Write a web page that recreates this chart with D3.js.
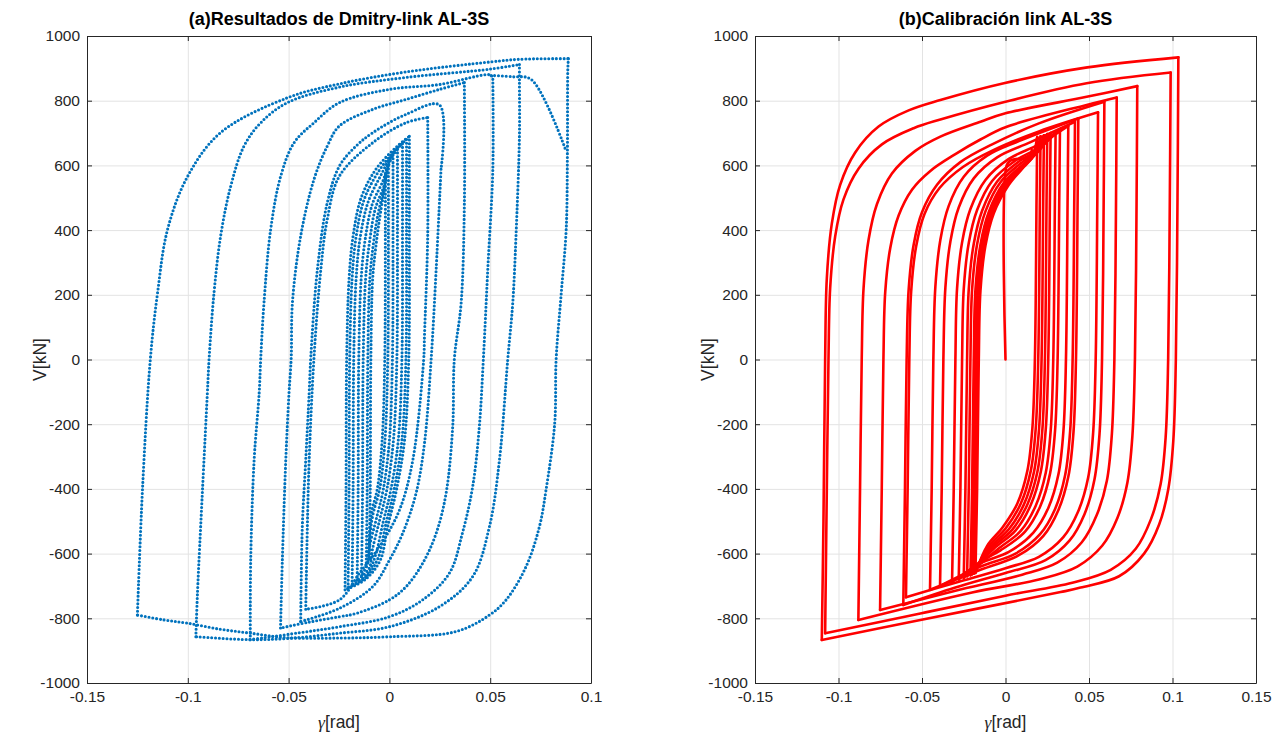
<!DOCTYPE html>
<html><head><meta charset="utf-8">
<script src="https://cdn.jsdelivr.net/npm/d3@7"></script>
<style>
body{margin:0;background:#fff;}
svg{display:block;}
</style></head><body>
<svg id="chart" width="1281" height="735"></svg>
<script>
// ---------- axis ticks ----------
const yTicks = [-1000,-800,-600,-400,-200,0,200,400,600,800,1000];
const xTicksA = [-0.15,-0.1,-0.05,0,0.05,0.1];
const xTicksB = [-0.15,-0.1,-0.05,0,0.05,0.1,0.15];
const titleA = "(a)Resultados de Dmitry-link AL-3S";
const titleB = "(b)Calibración link AL-3S";

// ---------- panel (a): experimental loops [gamma, V] ----------
const loopA = [[-0.125,-790],[-0.1225,-404],[-0.1186,0],[-0.115,206],[-0.110,403],[-0.100,567],[-0.0838,701],[-0.0506,809],[-0.0248,852],[0.0083,889],[0.0504,920],[0.0645,928],[0.0888,930],[0.0885,898],[0.0883,640],[0.0877,403],[0.0852,202],[0.0827,0],[0.082,-197],[0.0777,-403],[0.0744,-517],[0.0678,-640],[0.0579,-743],[0.0496,-790],[0.033,-841],[0,-857],[-0.0248,-861],[-0.0506,-860],[-0.0688,-846],[-0.0837,-834],[-0.1002,-815],[-0.1118,-805],[-0.125,-790]];
const loopB = [[-0.096,-857],[-0.0952,-722],[-0.0928,-414],[-0.0903,-104],[-0.0894,6],[-0.087,206],[-0.0837,382],[-0.0787,536],[-0.0721,660],[-0.0638,732],[-0.0506,794],[-0.0248,842],[0.0083,872],[0.0504,898],[0.0645,912],[0.0645,860],[0.0645,691],[0.0628,382],[0.0612,176],[0.0587,0],[0.0546,-310],[0.0496,-517],[0.0413,-671],[0.0248,-764],[0,-826],[-0.0248,-846],[-0.05,-862],[-0.069,-866],[-0.096,-857]];
const loopAnom = [[0.0504,878],[0.0612,874],[0.0703,866],[0.0876,645]];
const loopC = [[-0.069,-866],[-0.0688,-620],[-0.0671,-311],[-0.0646,-104],[-0.0638,6],[-0.0622,176],[-0.0589,402],[-0.0539,567],[-0.0473,670],[-0.0374,732],[-0.0248,794],[0,835],[0.0248,850],[0.0504,879],[0.0513,866],[0.0513,588],[0.0488,279],[0.0466,0],[0.0446,-208],[0.0413,-393],[0.0362,-537],[0.0298,-660],[0.0165,-743],[0,-795],[-0.0248,-826],[-0.045,-845],[-0.069,-866]];
const loopD = [[-0.054,-830],[-0.0531,-620],[-0.0514,-311],[-0.0498,-104],[-0.0487,6],[-0.0481,176],[-0.044,382],[-0.0374,557],[-0.0308,660],[-0.0248,722],[-0.0083,773],[0.0083,804],[0.0248,835],[0.0372,856],[0.0372,846],[0.0372,485],[0.0356,176],[0.0322,0],[0.0314,-208],[0.0281,-414],[0.0232,-537],[0.0165,-630],[0.0083,-702],[0,-743],[-0.0165,-785],[-0.0248,-795],[-0.04,-812],[-0.054,-830]];
const loopE = [[-0.044,-810],[-0.0432,-517],[-0.0415,-311],[-0.0398,-104],[-0.039,6],[-0.0357,279],[-0.0308,485],[-0.0248,598],[-0.0165,660],[-0.0083,701],[0.0083,758],[0.0248,787],[0.0256,588],[0.0232,279],[0.0207,0],[0.0174,-259],[0.0132,-414],[0.0066,-537],[0,-620],[-0.0083,-702],[-0.0248,-769],[-0.044,-810]];
const loopF = [[-0.0415,-772],[-0.0407,-517],[-0.0398,-311],[-0.0374,6],[-0.034,279],[-0.0308,434],[-0.0248,567],[-0.0083,670],[0.0083,732],[0.019,748],[0.019,382],[0.0174,73],[0.017,0],[0.0116,-311],[0.005,-465],[-0.005,-579],[-0.0149,-661],[-0.0248,-743],[-0.0415,-772]];
const loopS1 = [[-0.022,-712],[-0.0215,-400],[-0.0212,0],[-0.020,250],[-0.018,382],[-0.014,500],[-0.0066,589],[0.004,660],[0.0099,690],[0.0099,400],[0.0096,0],[0.0075,-250],[0.0036,-400],[-0.001,-520],[-0.0045,-620],[-0.012,-680],[-0.022,-712]];
const loopS2 = [[-0.0205,-705],[-0.020,-400],[-0.0197,0],[-0.0185,250],[-0.0165,380],[-0.0125,495],[-0.0055,580],[0.003,648],[0.0085,680],[0.0085,400],[0.0082,0],[0.0062,-250],[0.0024,-400],[-0.002,-515],[-0.0055,-612],[-0.0115,-672],[-0.0205,-705]];
const loopS3 = [[-0.0185,-696],[-0.018,-400],[-0.0177,0],[-0.0165,250],[-0.0145,377],[-0.0105,488],[-0.0042,570],[0.0015,635],[0.0065,667],[0.0065,400],[0.0062,0],[0.0044,-250],[0.0008,-400],[-0.0033,-508],[-0.0068,-603],[-0.0108,-662],[-0.0185,-696]];
const loopS4 = [[-0.016,-682],[-0.0155,-400],[-0.0152,0],[-0.014,250],[-0.012,372],[-0.0085,480],[-0.003,555],[0.0,615],[0.004,650],[0.004,400],[0.0037,0],[0.002,-250],[-0.0012,-400],[-0.005,-500],[-0.0085,-590],[-0.010,-645],[-0.016,-682]];
const loopS5 = [[-0.0138,-668],[-0.0133,-400],[-0.013,0],[-0.0118,250],[-0.0098,366],[-0.007,466],[-0.0025,540],[-0.0007,595],[0.0018,632],[0.0018,400],[0.0015,0],[0.0,-250],[-0.003,-400],[-0.0065,-493],[-0.0098,-576],[-0.0108,-630],[-0.0138,-668]];
const loopS6 = [[-0.0115,-640],[-0.011,-400],[-0.0107,0],[-0.0097,250],[-0.008,355],[-0.0058,445],[-0.003,520],[-0.0015,565],[-0.0005,600],[-0.0005,400],[-0.0008,0],[-0.0022,-250],[-0.0048,-400],[-0.0082,-480],[-0.010,-560],[-0.0108,-605],[-0.0115,-640]];
const loopS7 = [[-0.010,-612],[-0.0095,-400],[-0.0092,0],[-0.0083,250],[-0.0068,345],[-0.005,430],[-0.0032,500],[-0.0022,540],[-0.002,570],[-0.002,400],[-0.0023,0],[-0.0036,-250],[-0.006,-400],[-0.0088,-470],[-0.0098,-540],[-0.0099,-580],[-0.010,-612]];
const expLoops = [loopA,loopB,loopAnom,loopC,loopD,loopE,loopF,loopS1,loopS2,loopS3,loopS4,loopS5,loopS6,loopS7];

// ---------- panel (b): calibrated model loops [gamma, V] ----------
const modelStart = [[0,0],[0.0007,600],[0.003,615],[0.0157,622],[0.0157,648]];
const R1 = [[-0.110,-867],[-0.109,-500],[-0.108,0],[-0.107,250],[-0.104,420],[-0.099,540],[-0.090,640],[-0.076,720],[-0.058,770],[-0.039,802],[-0.001,854],[0.049,903],[0.1035,934],[0.1030,500],[0.1020,0],[0.1005,-250],[0.0975,-400],[0.092,-510],[0.083,-600],[0.068,-670],[0.045,-705],[0.033,-719],[-0.051,-805],[-0.110,-867]];
const R2 = [[-0.108,-846],[-0.107,-400],[-0.106,0],[-0.105,220],[-0.102,380],[-0.097,495],[-0.088,590],[-0.074,665],[-0.055,715],[-0.039,742],[0.0,797],[0.0486,854],[0.0989,887],[0.0984,500],[0.0974,0],[0.0959,-240],[0.0929,-385],[0.087,-495],[0.078,-585],[0.063,-650],[0.040,-690],[0.0,-730],[-0.051,-785],[-0.108,-846]];
const R3 = [[-0.0881,-805],[-0.0871,-400],[-0.0861,0],[-0.085,220],[-0.082,370],[-0.077,480],[-0.068,575],[-0.054,645],[-0.039,689],[-0.015,735],[0.0,761],[0.0486,812],[0.0789,845],[0.0785,500],[0.0775,0],[0.076,-235],[0.073,-380],[0.067,-490],[0.058,-575],[0.043,-640],[0.02,-680],[-0.02,-720],[-0.0881,-805]];
const R4 = [[-0.0751,-774],[-0.0741,-400],[-0.0731,0],[-0.072,210],[-0.069,345],[-0.064,445],[-0.056,525],[-0.045,583],[-0.030,635],[-0.015,680],[0.0,718],[0.0486,787],[0.0666,810],[0.0662,500],[0.0652,0],[0.0637,-230],[0.0607,-375],[0.0547,-480],[0.0457,-565],[0.031,-628],[0.01,-665],[-0.03,-715],[-0.0751,-774]];
const R5 = [[-0.0612,-759],[-0.0602,-400],[-0.0592,0],[-0.058,215],[-0.055,355],[-0.050,455],[-0.041,540],[-0.027,610],[-0.008,665],[0.02,730],[0.0592,797],[0.0588,500],[0.0578,0],[0.0563,-230],[0.0533,-370],[0.0473,-478],[0.0383,-560],[0.024,-620],[0.0,-660],[-0.03,-705],[-0.0612,-759]];
const R6 = [[-0.0596,-735],[-0.0586,-400],[-0.0576,0],[-0.0565,210],[-0.0535,350],[-0.0485,450],[-0.0395,530],[-0.0255,595],[-0.007,648],[0.02,705],[0.0554,764],[0.055,500],[0.054,0],[0.0525,-225],[0.0495,-365],[0.0435,-470],[0.0345,-550],[0.02,-610],[0.0,-645],[-0.03,-690],[-0.0596,-735]];
const R7 = [[-0.0452,-712],[-0.0442,-400],[-0.0432,0],[-0.042,225],[-0.039,370],[-0.034,475],[-0.025,565],[-0.011,630],[0.008,675],[0.0436,745],[0.0432,500],[0.0422,0],[0.0407,-225],[0.0377,-360],[0.0317,-465],[0.0227,-545],[0.008,-605],[-0.015,-650],[-0.0452,-712]];
const R8 = [[-0.0392,-700],[-0.0382,-400],[-0.0372,0],[-0.036,222],[-0.033,365],[-0.028,470],[-0.019,560],[-0.005,625],[0.015,672],[0.0416,735],[0.0412,500],[0.0402,0],[0.0387,-222],[0.0357,-358],[0.0297,-462],[0.0207,-540],[0.006,-600],[-0.015,-640],[-0.0392,-700]];
const R9 = [[-0.032,-688],[-0.031,-400],[-0.030,0],[-0.029,220],[-0.026,362],[-0.021,465],[-0.012,555],[0.002,620],[0.02,665],[0.0376,722],[0.0372,500],[0.0362,0],[0.0347,-220],[0.0317,-355],[0.0257,-458],[0.0167,-535],[0.002,-595],[-0.015,-630],[-0.032,-688]];
const R10 = [[-0.028,-680],[-0.027,-400],[-0.026,0],[-0.025,218],[-0.022,360],[-0.017,462],[-0.008,552],[0.006,615],[0.02,655],[0.0326,710],[0.0322,500],[0.0312,0],[0.0297,-218],[0.0267,-352],[0.0207,-455],[0.0117,-532],[-0.003,-590],[-0.015,-625],[-0.028,-680]];
const R11 = [[-0.025,-675],[-0.024,-400],[-0.023,0],[-0.022,217],[-0.019,358],[-0.014,460],[-0.005,550],[0.008,612],[0.02,650],[0.030,705],[0.0296,500],[0.0286,0],[0.0271,-217],[0.0241,-350],[0.0181,-452],[0.0091,-530],[-0.005,-588],[-0.025,-675]];
const R12 = [[-0.023,-670],[-0.022,-400],[-0.021,0],[-0.020,216],[-0.017,356],[-0.012,458],[-0.003,548],[0.01,610],[0.02,645],[0.027,700],[0.0266,500],[0.0256,0],[0.0241,-216],[0.0211,-348],[0.0151,-450],[0.0061,-528],[-0.007,-585],[-0.023,-670]];
const R13 = [[-0.021,-667],[-0.020,-400],[-0.019,0],[-0.018,215],[-0.015,355],[-0.010,456],[-0.001,546],[0.011,605],[0.019,640],[0.025,697],[0.0246,500],[0.0236,0],[0.0221,-215],[0.0191,-347],[0.0131,-448],[0.0041,-526],[-0.008,-582],[-0.021,-667]];
const R14 = [[-0.020,-664],[-0.019,-400],[-0.018,0],[-0.017,214],[-0.014,354],[-0.009,455],[0.0,544],[0.011,600],[0.018,635],[0.023,693],[0.0226,500],[0.0216,0],[0.0201,-214],[0.0171,-346],[0.0111,-447],[0.0021,-524],[-0.009,-580],[-0.020,-664]];
const R15 = [[-0.019,-662],[-0.018,-400],[-0.017,0],[-0.016,213],[-0.013,353],[-0.008,454],[0.001,542],[0.011,598],[0.017,630],[0.021,690],[0.0206,500],[0.0196,0],[0.0181,-213],[0.0151,-345],[0.0091,-446],[0.0001,-522],[-0.010,-578],[-0.019,-662]];
const R16 = [[-0.018,-660],[-0.017,-400],[-0.016,0],[-0.015,212],[-0.012,352],[-0.007,452],[0.002,540],[0.011,595],[0.016,625],[0.019,688],[0.0186,500],[0.0176,0],[0.0161,-212],[0.0131,-344],[0.0071,-445],[-0.0019,-520],[-0.011,-576],[-0.018,-660]];
const modelLoops = [modelStart,R1,R2,R3,R4,R5,R6,R7,R8,R9,R10,R11,R12,R13,R14,R15,R16];

// ---------- drawing ----------
const svg = d3.select("#chart");
svg.append("rect").attr("width",1281).attr("height",735).attr("fill","#fff");
const TXT = "#262626";
const FONT = "'Liberation Sans', Arial, Helvetica, sans-serif";

// split each loop at its right-most point so the sharp corners stay sharp
function branches(loops){
  const out = [];
  loops.forEach(l=>{
    let im = 0; l.forEach((p,i)=>{ if(p[0] > l[im][0]) im = i; });
    const a = l.slice(0, im+1), b = l.slice(im);
    if(a.length>1) out.push(a);
    if(b.length>1) out.push(b);
  });
  return out;
}

function panel(opt){
  const {left,right,top,bottom,xDomain,xTicks,title,id} = opt;
  const x = d3.scaleLinear().domain(xDomain).range([left,right]);
  const y = d3.scaleLinear().domain([-1000,1000]).range([bottom,top]);
  const g = svg.append("g");
  const W = right-left, H = bottom-top;
  const fmt = d => String(+(+d).toFixed(2));

  // grid
  g.append("g").attr("transform",`translate(0,${bottom})`)
    .call(d3.axisBottom(x).tickValues(xTicks).tickSize(-H).tickFormat(""))
    .call(s=>{s.select(".domain").remove(); s.selectAll("line").attr("stroke","#e3e3e3").attr("stroke-width",1);});
  g.append("g").attr("transform",`translate(${left},0)`)
    .call(d3.axisLeft(y).tickValues(yTicks).tickSize(-W).tickFormat(""))
    .call(s=>{s.select(".domain").remove(); s.selectAll("line").attr("stroke","#e3e3e3").attr("stroke-width",1);});

  // data
  svg.append("clipPath").attr("id",id).append("rect")
    .attr("x",left).attr("y",top).attr("width",W).attr("height",H);
  const line = d3.line().x(d=>x(d[0])).y(d=>y(d[1])).curve(d3.curveCatmullRom.alpha(0.5));
  const dg = g.append("g").attr("clip-path",`url(#${id})`);
  opt.draw(dg, line);

  // axes
  const styleAxis = s=>{
    s.select(".domain").attr("stroke",TXT).attr("stroke-width",1);
    s.selectAll(".tick line").attr("stroke",TXT);
    s.selectAll("text").attr("fill",TXT).attr("font-size",15.5).attr("font-family",FONT);
  };
  g.append("g").attr("transform",`translate(0,${bottom})`)
    .call(d3.axisBottom(x).tickValues(xTicks).tickSizeInner(-5).tickSizeOuter(0).tickPadding(8).tickFormat(fmt))
    .call(styleAxis);
  g.append("g").attr("transform",`translate(0,${top})`)
    .call(d3.axisTop(x).tickValues(xTicks).tickSizeInner(-5).tickSizeOuter(0).tickFormat(""))
    .call(styleAxis);
  g.append("g").attr("transform",`translate(${left},0)`)
    .call(d3.axisLeft(y).tickValues(yTicks).tickSizeInner(-5).tickSizeOuter(0).tickPadding(7).tickFormat(fmt))
    .call(styleAxis);
  g.append("g").attr("transform",`translate(${right},0)`)
    .call(d3.axisRight(y).tickValues(yTicks).tickSizeInner(-5).tickSizeOuter(0).tickFormat(""))
    .call(styleAxis);

  // title
  g.append("text").attr("x",(left+right)/2).attr("y",top-11)
    .attr("text-anchor","middle").attr("font-family",FONT).attr("font-weight","bold")
    .attr("font-size",18).attr("fill","#000").text(title);
  // y label
  g.append("text").attr("transform",`translate(${left-41},${(top+bottom)/2}) rotate(-90)`)
    .attr("text-anchor","middle").attr("font-family",FONT).attr("font-size",17.5).attr("fill",TXT).text("V[kN]");
  // x label
  const xl = g.append("text").attr("x",(left+right)/2).attr("y",bottom+45)
    .attr("text-anchor","middle").attr("font-family",FONT).attr("font-size",17.5).attr("fill",TXT);
  xl.append("tspan").attr("font-family","'Liberation Serif','DejaVu Serif',serif").attr("font-style","italic").text("γ");
  xl.append("tspan").text("[rad]");
}

panel({left:87,right:591,top:36,bottom:683,xDomain:[-0.15,0.1],xTicks:xTicksA,title:titleA,id:"clipA",
  draw:(dg,line)=>{
    dg.selectAll("path.exp").data(branches(expLoops)).join("path").attr("class","exp")
      .attr("d",line).attr("fill","none").attr("stroke","#0072BD")
      .attr("stroke-width",3.1).attr("stroke-linecap","round").attr("stroke-dasharray","0,3.8");
  }});
panel({left:755,right:1256,top:36,bottom:683,xDomain:[-0.15,0.15],xTicks:xTicksB,title:titleB,id:"clipB",
  draw:(dg,line)=>{
    dg.selectAll("path.mod").data(branches(modelLoops)).join("path").attr("class","mod")
      .attr("d",line).attr("fill","none").attr("stroke","#ff0000")
      .attr("stroke-width",2.6).attr("stroke-linejoin","round").attr("stroke-linecap","round");
  }});
</script>
</body></html>
